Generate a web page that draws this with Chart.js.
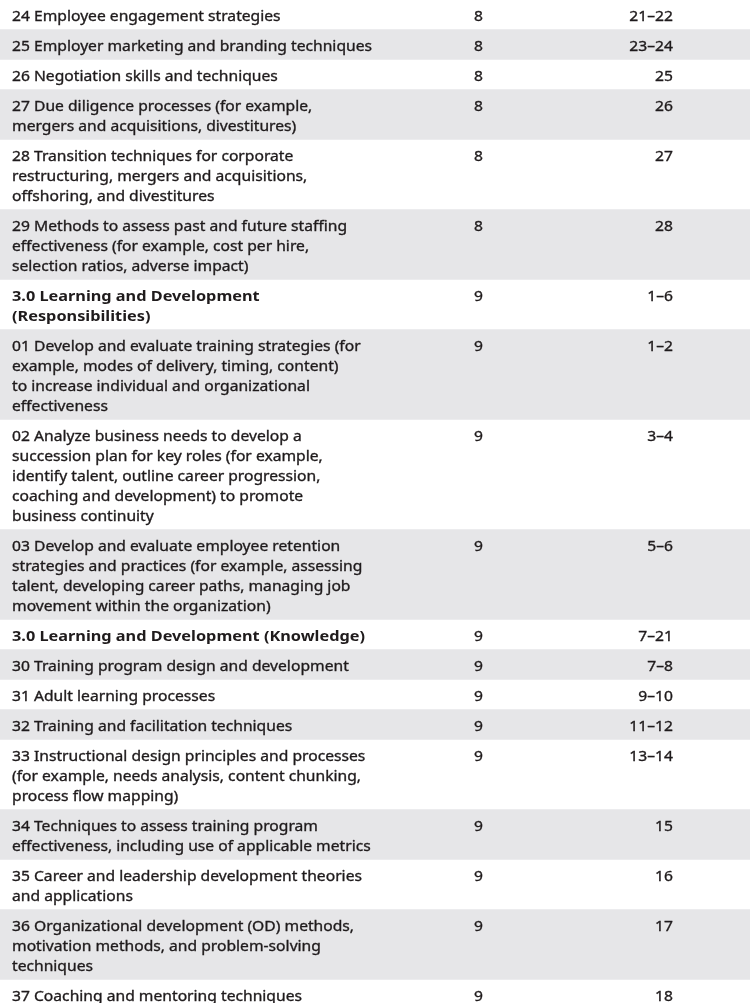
<!DOCTYPE html>
<html>
<head>
<meta charset="utf-8">
<title>Learning and Development - Exam Outline</title>
<script src="https://cdn.jsdelivr.net/npm/chart.js@4.4.1/dist/chart.umd.min.js"></script>
<style>
    html, body { margin: 0; padding: 0; background: #ffffff; }
    #outlineChart { display: block; }
</style>
</head>
<body>
<canvas id="outlineChart" width="750" height="1003"></canvas>
<script>
// Outline rows: description lines, chapter and pages
const descriptions = [
    ['24 Employee engagement strategies'],
    ['25 Employer marketing and branding techniques'],
    ['26 Negotiation skills and techniques'],
    ['27 Due diligence processes (for example,', 'mergers and acquisitions, divestitures)'],
    ['28 Transition techniques for corporate', 'restructuring, mergers and acquisitions,', 'offshoring, and divestitures'],
    ['29 Methods to assess past and future staffing', 'effectiveness (for example, cost per hire,', 'selection ratios, adverse impact)'],
    ['3.0 Learning and Development', '(Responsibilities)'],
    ['01 Develop and evaluate training strategies (for', 'example, modes of delivery, timing, content)', 'to increase individual and organizational', 'effectiveness'],
    ['02 Analyze business needs to develop a', 'succession plan for key roles (for example,', 'identify talent, outline career progression,', 'coaching and development) to promote', 'business continuity'],
    ['03 Develop and evaluate employee retention', 'strategies and practices (for example, assessing', 'talent, developing career paths, managing job', 'movement within the organization)'],
    ['3.0 Learning and Development (Knowledge)'],
    ['30 Training program design and development'],
    ['31 Adult learning processes'],
    ['32 Training and facilitation techniques'],
    ['33 Instructional design principles and processes', '(for example, needs analysis, content chunking,', 'process flow mapping)'],
    ['34 Techniques to assess training program', 'effectiveness, including use of applicable metrics'],
    ['35 Career and leadership development theories', 'and applications'],
    ['36 Organizational development (OD) methods,', 'motivation methods, and problem-solving', 'techniques'],
    ['37 Coaching and mentoring techniques']
];
const chapters = ['8', '8', '8', '8', '8', '8', '9', '9', '9', '9', '9', '9', '9', '9', '9', '9', '9', '9', '9'];
const pages = ['21–22', '23–24', '25', '26', '27', '28', '1–6', '1–2', '3–4', '5–6', '7–21', '7–8', '9–10', '11–12', '13–14', '15', '16', '17', '18'];
const headingRows = [6, 10];

document.addEventListener('DOMContentLoaded', function() {
    const canvas = document.getElementById('outlineChart');

    // Layout (pixels)
    const lineHeight = 20;
    const textLeft = 12;
    const chapterLeft = 474;
    const pagesRight = 673;
    const firstBaseline = 21;
    const gray = '#e6e6e8';
    const ink = '#1f1b1c';

    // Row extents in "line" units: each row = its lines + half a line of padding
    const rowTops = [];
    const rowBottoms = [];
    let pos = -0.025;
    descriptions.forEach(lines => {
        rowTops.push(pos);
        pos += lines.length + 0.5;
        rowBottoms.push(pos);
    });

    // One floating bar per shaded (odd) row, all overlapping in one category
    const datasets = [];
    descriptions.forEach((lines, i) => {
        if (i % 2 === 1) {
            datasets.push({
                label: 'row ' + i,
                data: [[rowTops[i], rowBottoms[i]]],
                backgroundColor: gray,
                borderWidth: 0,
                borderSkipped: false,
                barPercentage: 1,
                categoryPercentage: 1
            });
        }
    });

    const regularFont = '15px "Noto Sans"';
    const boldFont = 'bold 15px "Noto Sans"';

    // Draws the three text columns on top of the row bands
    const tableText = {
        id: 'tableText',
        afterDatasetsDraw(chart) {
            const c = chart.ctx;
            const y = chart.scales.y;
            // horizontal squeeze so widths follow the reference typeface
            c.save();
            c.font = regularFont;
            const kReg = 360 / c.measureText('25 Employer marketing and branding techniques').width;
            c.font = boldFont;
            const kBold = 353 / c.measureText('3.0 Learning and Development (Knowledge)').width;
            c.fillStyle = ink;
            c.strokeStyle = ink;
            c.lineWidth = 0.35;
            c.textBaseline = 'alphabetic';

            function put(text, x, base, k, align, thicken) {
                c.save();
                c.translate(x, base);
                c.scale(k, 1);
                c.textAlign = align;
                c.fillText(text, 0, 0);
                if (thicken) c.strokeText(text, 0, 0);
                c.restore();
            }

            descriptions.forEach((lines, i) => {
                const top = y.getPixelForValue(rowTops[i]);
                const bold = headingRows.includes(i);
                c.font = bold ? boldFont : regularFont;
                lines.forEach((line, j) => {
                    put(line, textLeft, top + firstBaseline + j * lineHeight, bold ? kBold : kReg, 'left', !bold);
                });
                c.font = regularFont;
                put(chapters[i], chapterLeft, top + firstBaseline, kReg, 'left', true);
                put(pages[i], pagesRight, top + firstBaseline, kReg, 'right', true);
            });
            c.restore();
        }
    };

    new Chart(canvas, {
        type: 'bar',
        data: {
            labels: ['outline'],
            datasets: datasets
        },
        options: {
            responsive: false,
            animation: false,
            events: [],
            layout: { padding: 0 },
            grouped: false,
            plugins: {
                legend: { display: false },
                tooltip: { enabled: false }
            },
            scales: {
                x: { display: false, offset: true, grid: { display: false } },
                y: {
                    display: false,
                    reverse: true,
                    min: 0,
                    max: 1003 / lineHeight
                }
            }
        },
        plugins: [tableText]
    });
});
</script>
</body>
</html>
